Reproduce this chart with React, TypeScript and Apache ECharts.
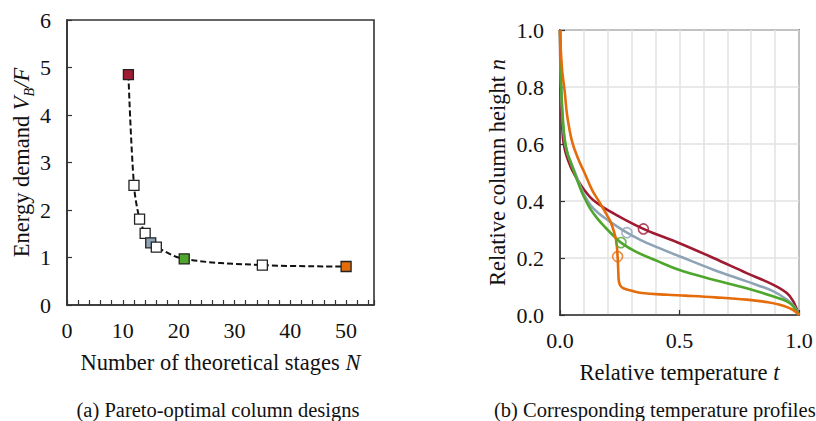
import React, { useEffect, useRef } from "react";
import * as echarts from "echarts";

// (a) Pareto-optimal column designs
const stagesN = [11, 12, 13, 14, 15, 16, 21, 35, 50];
const energyDemand = [4.85, 2.52, 1.81, 1.51, 1.31, 1.22, 0.97, 0.84, 0.81];
const designColors = ["#9e1b32", "#ffffff", "#ffffff", "#ffffff", "#8ea4b6", "#ffffff", "#4ea72c", "#ffffff", "#e46c0a"];

// (b) Temperature profiles: [t, n]
const profileRed = [
  [0, 1], [0.001, 0.9], [0.003, 0.8], [0.007, 0.7], [0.0125, 0.62], [0.018, 0.59], [0.025, 0.565],
  [0.035, 0.54], [0.05, 0.51], [0.075, 0.472], [0.1, 0.44], [0.13, 0.41], [0.165, 0.387],
  [0.2, 0.368], [0.273, 0.334], [0.349, 0.302], [0.4, 0.284], [0.5, 0.252], [0.642, 0.2],
  [0.781, 0.147], [0.893, 0.106], [0.949, 0.077], [0.976, 0.048], [0.99, 0.022], [1, 0],
];
const profileBlue = [
  [0, 1], [0.002, 0.9], [0.005, 0.8], [0.01, 0.7], [0.018, 0.62], [0.03, 0.57], [0.045, 0.537],
  [0.063, 0.5], [0.085, 0.452], [0.105, 0.415], [0.13, 0.383], [0.16, 0.358], [0.2, 0.333],
  [0.24, 0.31], [0.28, 0.289], [0.34, 0.262], [0.4, 0.24], [0.5, 0.206], [0.642, 0.159],
  [0.781, 0.118], [0.893, 0.083], [0.949, 0.054], [0.98, 0.03], [1, 0],
];
const profileGreen = [
  [0, 1], [0.002, 0.9], [0.005, 0.8], [0.011, 0.7], [0.02, 0.615], [0.032, 0.565], [0.045, 0.535],
  [0.06, 0.5], [0.08, 0.455], [0.1, 0.415], [0.125, 0.375], [0.155, 0.34], [0.19, 0.307],
  [0.225, 0.277], [0.255, 0.254], [0.315, 0.223], [0.4, 0.192], [0.5, 0.158], [0.642, 0.124],
  [0.781, 0.094], [0.893, 0.065], [0.949, 0.048], [0.976, 0.03], [1, 0],
];
const profileOrange = [
  [0, 1], [0.004, 0.92], [0.01, 0.85], [0.019, 0.79], [0.03, 0.7], [0.05, 0.61], [0.075, 0.55],
  [0.102, 0.5], [0.134, 0.439], [0.159, 0.404], [0.19, 0.36], [0.214, 0.322], [0.234, 0.266],
  [0.241, 0.205], [0.244, 0.15], [0.246, 0.12], [0.252, 0.104], [0.265, 0.094], [0.3, 0.085],
  [0.343, 0.077], [0.45, 0.071], [0.524, 0.068], [0.65, 0.062], [0.781, 0.054], [0.87, 0.045],
  [0.92, 0.036], [0.96, 0.024], [0.985, 0.012], [1, 0],
];
const markerT = [0.349, 0.28, 0.255, 0.241];
const markerN = [0.302, 0.289, 0.254, 0.205];
const profileColors = ["#9e1b32", "#8ea4b6", "#4ea72c", "#e46c0a"];

const FONT = "'Liberation Serif', 'Times New Roman', Times, serif";
const TEXT = "#111";
const AXIS = "#333";
const GRIDC = "#e2e2e2";

export default function App() {
  const ref = useRef<HTMLDivElement>(null);
  useEffect(() => {
    if (!ref.current) return;
    const chart = echarts.init(ref.current, undefined, { renderer: "svg" });
    const nameRich = {
      a: { fontFamily: FONT, fontSize: 22.5, color: TEXT, lineHeight: 22, verticalAlign: "top" },
      i: { fontFamily: FONT, fontSize: 22.5, color: TEXT, fontStyle: "italic", lineHeight: 22, verticalAlign: "top" },
      s: { fontFamily: FONT, fontSize: 14, color: TEXT, fontStyle: "italic", lineHeight: 14, padding: [12, 0, 0, 0], verticalAlign: "top" },
    };
    const labelStyle = { fontFamily: FONT, fontSize: 22, color: TEXT };
    const profiles = [profileRed, profileBlue, profileGreen, profileOrange];
    chart.setOption({
      animation: false,
      textStyle: { fontFamily: FONT },
      grid: [
        { left: 67, top: 20, width: 307, height: 285, show: true, borderColor: AXIS, borderWidth: 1.6, backgroundColor: "transparent" },
        { left: 560, top: 30, width: 239, height: 285, show: true, borderColor: AXIS, borderWidth: 1.6, backgroundColor: "transparent" },
      ],
      xAxis: [
        {
          gridIndex: 0, type: "value", min: 0, max: 55, interval: 2,
          axisLine: { lineStyle: { color: AXIS, width: 1.6 } },
          axisTick: { inside: true, length: 5, lineStyle: { color: AXIS, width: 1.2 } },
          splitLine: { show: false },
          axisLabel: { ...labelStyle, margin: 14, formatter: (v: number) => (v % 10 === 0 ? String(v) : "") },
          name: "{a|Number of theoretical stages }{i|N}", nameLocation: "middle", nameGap: 46,
          nameTextStyle: { rich: nameRich },
        },
        {
          gridIndex: 1, type: "value", min: 0, max: 1, interval: 0.5,
          axisLine: { lineStyle: { color: AXIS, width: 1.6 } },
          axisTick: { inside: true, length: 5, lineStyle: { color: AXIS, width: 1.2 } },
          splitLine: { show: true, lineStyle: { color: GRIDC, width: 1.5 } },
          minorTick: { show: false, splitNumber: 5 },
          minorSplitLine: { show: true, lineStyle: { color: GRIDC, width: 1.5 } },
          axisLabel: { ...labelStyle, margin: 14, formatter: (v: number) => v.toFixed(1) },
          name: "{a|Relative temperature }{i|t}", nameLocation: "middle", nameGap: 46,
          nameTextStyle: { rich: nameRich },
        },
      ],
      yAxis: [
        {
          gridIndex: 0, type: "value", min: 0, max: 6, interval: 1,
          axisLine: { show: true, lineStyle: { color: AXIS, width: 1.6 } },
          axisTick: { show: true, inside: true, length: 5, lineStyle: { color: AXIS, width: 1.2 } },
          splitLine: { show: false },
          axisLabel: { ...labelStyle, margin: 16 },
          name: "{a|Energy demand }{i|V}{s|B}{i|/F}", nameLocation: "middle", nameGap: 30,
          nameTextStyle: { rich: nameRich },
        },
        {
          gridIndex: 1, type: "value", min: 0, max: 1, interval: 0.2,
          axisLine: { show: true, lineStyle: { color: AXIS, width: 1.6 } },
          axisTick: { show: true, inside: true, length: 5, lineStyle: { color: AXIS, width: 1.2 } },
          splitLine: { show: true, lineStyle: { color: GRIDC, width: 1.5 } },
          axisLabel: { ...labelStyle, margin: 16, formatter: (v: number) => v.toFixed(1) },
          name: "{a|Relative column height }{i|n}", nameLocation: "middle", nameGap: 52,
          nameTextStyle: { rich: nameRich },
        },
      ],
      series: [
        {
          type: "line", xAxisIndex: 0, yAxisIndex: 0, smooth: 0.35,
          symbol: "rect", symbolSize: 10, showAllSymbol: true,
          lineStyle: { color: "#111", width: 2, type: [6, 3] },
          itemStyle: { borderColor: "#222", borderWidth: 1.3 },
          data: stagesN.map((x, i) => ({ value: [x, energyDemand[i]], itemStyle: { color: designColors[i], borderColor: "#222", borderWidth: 1.3 } })),
          z: 3,
        },
        ...profiles.map((p, k) => ({
          type: "line", xAxisIndex: 1, yAxisIndex: 1, smooth: 0.4,
          showSymbol: false, data: p,
          lineStyle: { color: profileColors[k], width: 2.6 },
          itemStyle: { color: profileColors[k] },
          z: 3,
        })),
        {
          type: "scatter", xAxisIndex: 1, yAxisIndex: 1, symbol: "circle", symbolSize: 10,
          data: markerT.map((t, i) => ({
            value: [t, markerN[i]],
            itemStyle: { color: "rgba(255,255,255,0)", borderColor: profileColors[i], borderWidth: 1.6 },
          })),
          z: 4,
        },
      ],
      graphic: [
        {
          type: "text", x: 218, y: 410,
          style: { text: "(a) Pareto-optimal column designs", fontFamily: FONT, fontSize: 20.5, fill: TEXT, align: "center", verticalAlign: "middle" },
        },
        {
          type: "text", x: 494, y: 410,
          style: { text: "(b) Corresponding temperature profiles", fontFamily: FONT, fontSize: 20.5, fill: TEXT, align: "left", verticalAlign: "middle" },
        },
      ],
    });
    return () => chart.dispose();
  }, []);
  return <div ref={ref} style={{ position: "fixed", left: 0, top: 0, width: 816, height: 421, background: "#fff" }} />;
}
